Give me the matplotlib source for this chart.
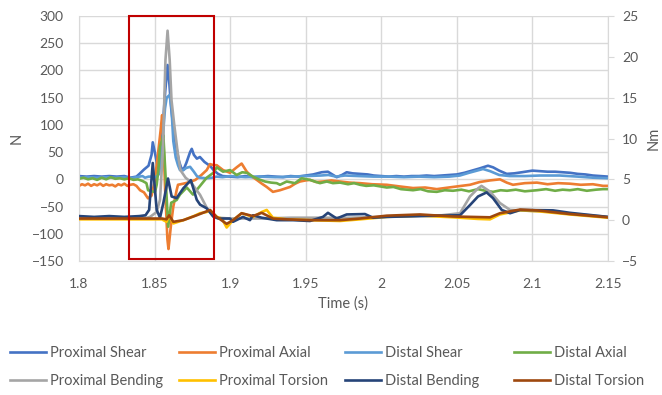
import matplotlib
matplotlib.use("Agg")
import matplotlib.pyplot as plt
from matplotlib.patches import Rectangle

plt.rcParams['font.family'] = ['Lato', 'DejaVu Sans']

# ---------------- data ----------------
# Proximal Shear (N)
t_ps = [1.800, 1.805, 1.810, 1.815, 1.820, 1.825, 1.830, 1.834, 1.838, 1.840, 1.843, 1.846, 1.848, 1.8488,
        1.8505, 1.852, 1.853, 1.854, 1.855, 1.857, 1.8586, 1.8598, 1.861, 1.8625, 1.864, 1.866, 1.8675, 1.869,
        1.871, 1.8735, 1.8746, 1.876, 1.878, 1.880, 1.883, 1.887, 1.889, 1.892, 1.895, 1.900, 1.905, 1.910,
        1.915, 1.920, 1.925, 1.930, 1.935, 1.940, 1.945, 1.950, 1.955, 1.9605, 1.9647, 1.967, 1.9705, 1.974,
        1.9771, 1.981, 1.986, 1.991, 1.995, 2.000, 2.005, 2.010, 2.015, 2.020, 2.025, 2.030, 2.035, 2.040,
        2.045, 2.050, 2.055, 2.060, 2.065, 2.0706, 2.074, 2.078, 2.083, 2.088, 2.093, 2.100, 2.105, 2.110,
        2.115, 2.120, 2.125, 2.130, 2.135, 2.140, 2.145, 2.150]
ps = [6, 5, 6, 5, 6, 5, 6, 3, 5, 10, 18, 25, 45, 68,
      45, 22, 20, 40, 80, 160, 210, 175, 130, 95, 65, 35, 22, 17,
      30, 50, 56, 45, 38, 41, 32, 24, 17, 10, 6, 5, 4, 6,
      4, 5, 6, 5, 4, 6, 5, 7, 9, 13, 14, 10, 4, 8,
      13, 11, 10, 9, 7, 6, 5, 6, 5, 6, 6, 7, 6, 7,
      8, 9, 12, 16, 20, 25, 22, 16, 10, 11, 13, 16, 15, 14,
      14, 13, 12, 10, 9, 7, 6, 5]

# Proximal Axial (N)
t_pa = [1.800, 1.802, 1.804, 1.806, 1.808, 1.810, 1.812, 1.814, 1.816, 1.818, 1.820, 1.822, 1.824, 1.826,
        1.828, 1.830, 1.832, 1.834, 1.836, 1.838, 1.8404, 1.843, 1.8457, 1.848, 1.850, 1.852, 1.854, 1.855,
        1.856, 1.857, 1.8585, 1.8592, 1.8610, 1.8624, 1.8646, 1.8655, 1.869, 1.8734, 1.877, 1.881, 1.8845,
        1.8867, 1.889, 1.8911, 1.8953, 1.8999, 1.9043, 1.9076, 1.9110, 1.9140, 1.9176, 1.9210, 1.9242, 1.9283,
        1.9330, 1.9396, 1.9430, 1.9462, 1.9500, 1.9528, 1.9570, 1.9614, 1.9670, 1.9727, 1.9790, 1.9859,
        1.9940, 2.0036, 2.0120, 2.0210, 2.0290, 2.0367, 2.0420, 2.0474, 2.0530, 2.0587, 2.0650, 2.0719,
        2.0785, 2.0830, 2.0871, 2.0950, 2.1030, 2.1100, 2.1170, 2.1248, 2.1320, 2.1400, 2.1467, 2.1500]
pa = [-12, -9, -11, -8, -12, -9, -11, -8, -12, -9, -11, -10, -13, -9,
      -11, -8, -12, -10, -9, -12, -20, -24, -35, -30, -5, 40, 90, 118,
      60, -20, -110, -128, -80, -50, -20, -10, -8, -5, -1, 8, 17,
      28, 26, 26, 17, 12, 22, 29, 14, 6, -1, -8, -14, -23,
      -20, -14, -8, -4, -2, -1, -5, -4, -2, -4, -6, -7,
      -9, -10, -13, -16, -15, -18, -16, -14, -12, -10, -5, -2,
      0, -6, -10, -7, -6, -9, -7, -8, -10, -9, -12, -12]

# Distal Shear (N)
t_ds = [1.800, 1.806, 1.812, 1.818, 1.824, 1.830, 1.834, 1.838, 1.842, 1.8437, 1.846, 1.849, 1.851, 1.853,
        1.855, 1.8569, 1.858, 1.8600, 1.8612, 1.8624, 1.864, 1.8655, 1.8668, 1.869, 1.871, 1.8735, 1.876,
        1.878, 1.880, 1.884, 1.888, 1.891, 1.895, 1.900, 1.910, 1.920, 1.930, 1.940, 1.950, 1.960, 1.965,
        1.970, 1.976, 1.985, 1.995, 2.005, 2.015, 2.025, 2.035, 2.045, 2.052, 2.058, 2.0673, 2.072, 2.078,
        2.085, 2.095, 2.105, 2.118, 2.130, 2.140, 2.150]
ds = [3, 4, 3, 4, 3, 4, 2, 4, 6, 3, 5, 5, 4, 10,
      60, 130, 150, 155, 130, 70, 40, 26, 17, 17, 21, 23, 14,
      6, 3, 2, 3, 5, 4, 6, 4, 5, 4, 5, 6, 7, 8,
      5, 7, 6, 5, 5, 4, 5, 4, 5, 7, 12, 19, 15, 8,
      6, 6, 7, 7, 5, 3, 2]

# Distal Axial (N)
t_da = [1.800, 1.803, 1.806, 1.809, 1.812, 1.815, 1.818, 1.821, 1.824, 1.827, 1.830, 1.833, 1.836, 1.839,
        1.842, 1.8446, 1.8457, 1.848, 1.8503, 1.8514, 1.8525, 1.8536, 1.855, 1.8558, 1.857, 1.8590, 1.8610,
        1.8646, 1.8668, 1.8713, 1.8754, 1.8801, 1.8845, 1.8889, 1.8911, 1.8953, 1.8999, 1.9043, 1.9080,
        1.9110, 1.9151, 1.9190, 1.9231, 1.9270, 1.9308, 1.9330, 1.9374, 1.9429, 1.9473, 1.9528, 1.9560,
        1.9594, 1.9640, 1.9680, 1.9727, 1.9780, 1.9820, 1.9859, 1.9900, 1.9950, 2.0036, 2.0080, 2.0130,
        2.0210, 2.0260, 2.0310, 2.0367, 2.0420, 2.0474, 2.0530, 2.0580, 2.0640, 2.0690, 2.0739, 2.0790,
        2.0832, 2.0890, 2.0950, 2.1030, 2.1090, 2.1150, 2.1200, 2.1248, 2.1300, 2.1360, 2.1420, 2.1467, 2.1500]
da = [1, 3, 0, 2, -1, 3, 0, 4, 1, 2, 0, 2, -1, 0,
      -3, -7, -20, -22, -23, -10, 17, 60, 72, 81, 20, -87, -43,
      -38, -28, -15, -28, -12, 3, 12, 22, 14, 17, 8, 13,
      12, 5, 0, -4, -6, -7, -10, -4, -7, 2, -1, -4,
      -7, -4, -7, -6, -9, -7, -10, -12, -11, -15, -14, -18,
      -20, -18, -22, -23, -20, -21, -19, -22, -18, -21, -23, -20,
      -21, -19, -22, -20, -18, -21, -19, -20, -18, -21, -19, -18, -18]

# Proximal Bending (Nm)
t_pb = [1.800, 1.810, 1.820, 1.830, 1.840, 1.845, 1.847, 1.8514, 1.8536, 1.8555, 1.8572, 1.8586, 1.8600,
        1.8612, 1.8630, 1.8655, 1.8672, 1.8705, 1.8738, 1.8801, 1.8846, 1.8886, 1.892, 1.900, 1.920, 1.940,
        1.960, 1.980, 2.000, 2.020, 2.040, 2.0521, 2.0587, 2.0640, 2.0663, 2.0719, 2.0785, 2.0852, 2.0918,
        2.1136, 2.1248, 2.1500]
pb = [0.3, 0.2, 0.3, 0.2, 0.3, 0.3, 0.4, 1.0, 2.5, 8.6, 19.6, 23.2, 19.6,
      14.7, 11.7, 8.0, 6.1, 5.2, 4.7, 3.1, 1.5, 0.5, 0.3, 0.2, 0.2, 0.3,
      0.3, 0.3, 0.4, 0.5, 0.6, 0.85, 2.9, 3.9, 4.2, 3.5, 2.1, 1.25, 1.2,
      1.0, 0.8, 0.4]

# Proximal Torsion (Nm)
t_pt = [1.800, 1.820, 1.840, 1.855, 1.8558, 1.8579, 1.8596, 1.8624, 1.8690, 1.8760, 1.8801, 1.8845, 1.8867,
        1.8911, 1.8945, 1.8977, 1.9019, 1.9076, 1.9118, 1.9151, 1.9209, 1.9242, 1.9283, 1.9374, 1.9528,
        1.9727, 1.9859, 2.0036, 2.0256, 2.0474, 2.0640, 2.0719, 2.0785, 2.0918, 2.1030, 2.1248, 2.1500]
pt = [0.1, 0.1, 0.1, 0.1, 0.0, -0.2, 0.6, -0.4, 0.0, 0.5, 0.85, 1.0, 1.2,
      0.4, 0.2, -0.9, 0.0, 0.85, 0.6, 0.4, 1.0, 1.25, 0.3, 0.1, 0.0,
      -0.1, 0.1, 0.4, 0.55, 0.35, 0.15, 0.1, 0.7, 1.2, 1.1, 0.7, 0.3]

# Distal Bending (Nm)
t_db = [1.800, 1.810, 1.820, 1.830, 1.840, 1.8440, 1.8464, 1.8488, 1.8514, 1.8536, 1.8558, 1.8589, 1.8613,
        1.8646, 1.8690, 1.8740, 1.8779, 1.8801, 1.8845, 1.8889, 1.8922, 1.8999, 1.9019, 1.9085, 1.9131,
        1.9151, 1.9209, 1.9308, 1.9416, 1.9528, 1.9614, 1.9647, 1.9705, 1.9771, 1.9892, 1.9945, 2.0036,
        2.0367, 2.0521, 2.0587, 2.0640, 2.0697, 2.0739, 2.0797, 2.0852, 2.0918, 2.1136, 2.1248, 2.1500]
db = [0.5, 0.4, 0.5, 0.4, 0.5, 0.6, 1.25, 7.0, 1.25, 0.3, 2.1, 5.1, 2.9,
      2.7, 3.9, 4.9, 2.5, 1.9, 1.45, 0.43, 0.2, 0.2, -0.2, 0.4, 0.0,
      0.6, 0.3, 0.0, 0.0, -0.1, 0.4, 0.9, 0.2, 0.7, 0.75, 0.3, 0.4,
      0.55, 0.6, 1.85, 2.9, 3.4, 2.7, 1.25, 0.85, 1.25, 1.2, 0.9, 0.4]

# Distal Torsion (Nm)
t_dt = [1.800, 1.820, 1.840, 1.855, 1.8579, 1.8596, 1.8624, 1.8690, 1.8779, 1.8820, 1.8867, 1.8911, 1.8977,
        1.9019, 1.9076, 1.9151, 1.9209, 1.9283, 1.9374, 1.9528, 1.9727, 1.9859, 2.0036, 2.0256, 2.0474,
        2.0719, 2.0785, 2.0918, 2.1030, 2.1248, 2.1500]
dt = [0.2, 0.2, 0.2, 0.2, 0.1, 0.6, -0.2, 0.0, 0.6, 0.9, 1.25, 0.4, -0.45,
      0.0, 0.85, 0.5, 0.9, 0.2, 0.1, 0.0, 0.0, 0.2, 0.55, 0.7, 0.45,
      0.35, 0.85, 1.3, 1.2, 0.75, 0.35]

x_ticks = [1.8, 1.85, 1.9, 1.95, 2.0, 2.05, 2.1, 2.15]
x_ticklabels = ["1.8", "1.85", "1.9", "1.95", "2", "2.05", "2.1", "2.15"]
highlight_t = [1.8333, 1.8895]
highlight_n = [-146, 300]

# ---------------- figure ----------------
W, H = 662, 395
fig = plt.figure(figsize=(W/100, H/100), dpi=100)
ax = fig.add_axes([79/W, 1-261/H, (608-79)/W, (261-16)/H])
ax2 = ax.twinx()

lw = 1.9
c_ps, c_pa, c_ds, c_da = '#4472C4', '#ED7D31', '#5B9BD5', '#70AD47'
c_pb, c_pt, c_db, c_dt = '#A5A5A5', '#FFC000', '#264478', '#9E480E'

h1, = ax.plot(t_ps, ps, color=c_ps, lw=lw, label='Proximal Shear')
h2, = ax.plot(t_pa, pa, color=c_pa, lw=lw, label='Proximal Axial')
h3, = ax.plot(t_ds, ds, color=c_ds, lw=lw, label='Distal Shear')
h4, = ax.plot(t_da, da, color=c_da, lw=lw, label='Distal Axial')
h5, = ax2.plot(t_pb, pb, color=c_pb, lw=lw, label='Proximal Bending')
h6, = ax2.plot(t_pt, pt, color=c_pt, lw=lw, label='Proximal Torsion')
h7, = ax2.plot(t_db, db, color=c_db, lw=lw, label='Distal Bending')
h8, = ax2.plot(t_dt, dt, color=c_dt, lw=lw, label='Distal Torsion')

ax.set_xlim(1.8, 2.15)
ax.set_ylim(-150, 300)
ax2.set_ylim(-5, 25)
ax.set_xticks(x_ticks)
ax.set_xticklabels(x_ticklabels)
ax.set_yticks(range(-150, 301, 50))
ax2.set_yticks(range(-5, 26, 5))

grid_c = '#D9D9D9'
txt_c = '#595959'
ax.grid(True, color=grid_c, lw=1.0)
ax.set_axisbelow(True)
ax.spines['top'].set_visible(False)
ax2.spines['top'].set_visible(False)
ax.spines['left'].set_color(grid_c)
ax.spines['bottom'].set_color(grid_c)
ax.spines['right'].set_visible(False)
ax2.spines['left'].set_visible(False)
ax2.spines['bottom'].set_visible(False)
ax2.spines['right'].set_color(grid_c)
ax.tick_params(axis='y', length=0, labelsize=10, colors=txt_c, pad=11)
ax.tick_params(axis='x', length=0, labelsize=10, colors=txt_c, pad=12)
ax2.tick_params(axis='y', length=4, color=grid_c, labelsize=10, labelcolor=txt_c, pad=6)

ax.set_xlabel('Time (s)', fontsize=10.5, color=txt_c, labelpad=5)
ax.set_ylabel('N', fontsize=10.5, color=txt_c, labelpad=6)
ax2.set_ylabel('Nm', fontsize=10.5, color=txt_c, labelpad=6)

rect = Rectangle((highlight_t[0], highlight_n[0]), highlight_t[1]-highlight_t[0],
                 highlight_n[1]-highlight_n[0], fill=False, edgecolor='#C00000', lw=1.5,
                 transform=ax.transData, zorder=10, clip_on=False)
ax2.add_artist(rect)
rect.set_transform(ax.transData)

# legend: 4 columns, 2 rows
columns = [[h1, h5], [h2, h6], [h3, h7], [h4, h8]]
col_x = [10, 179, 345, 514]
for hs, cx in zip(columns, col_x):
    fig.legend(handles=hs, labels=[h.get_label() for h in hs], loc='center left',
               bbox_to_anchor=(cx/W, 1-367/H), frameon=False, fontsize=10.5, labelcolor=txt_c,
               handlelength=2.45, handletextpad=0.27, labelspacing=1.0,
               borderpad=0, borderaxespad=0)

fig.savefig('out.png', dpi=100)
